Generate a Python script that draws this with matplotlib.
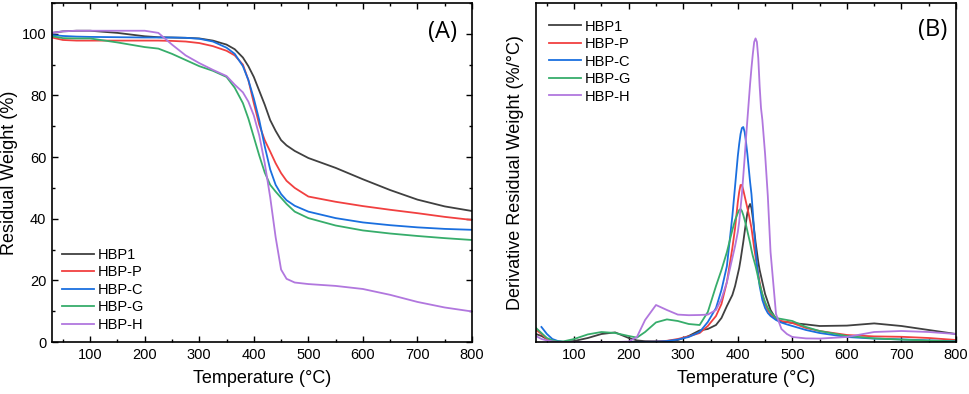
import numpy as np
import matplotlib
matplotlib.use("Agg")
import matplotlib.pyplot as plt
from matplotlib.ticker import MultipleLocator

plt.rcParams['font.family'] = ['Liberation Sans', 'DejaVu Sans']

names = ['HBP1', 'HBP-P', 'HBP-C', 'HBP-G', 'HBP-H']
colors = ['#404040', '#F14040', '#1A6FDF', '#37AD6B', '#B177DE']

# TGA (A): residual weight, %
t_tga = [30, 50, 75, 100, 150, 200, 225, 250, 275, 300, 325, 350, 365, 380, 390,
         400, 410, 420, 430, 440, 450, 460, 475, 500, 550, 600, 650, 700, 750, 800]
w_hbp1 = [100.3, 100.8, 101, 101, 100.3, 99.2, 98.9, 98.8, 98.7, 98.5, 97.8, 96.5, 95, 92.3, 89.5,
          86, 81.5, 77, 72, 68.5, 65.5, 63.8, 62, 59.7, 56.5, 52.8, 49.3, 46.2, 44, 42.5]
w_hbpp = [98.8, 98, 97.8, 97.8, 97.8, 97.8, 97.8, 97.7, 97.5, 97, 96, 94.5, 93, 90, 85,
          77.5, 70.5, 65.5, 61.8, 58, 54.8, 52.3, 50, 47.2, 45.5, 44.1, 42.9, 41.8, 40.6, 39.6]
w_hbpc = [99.6, 99.3, 99.1, 99, 98.9, 98.8, 98.8, 98.8, 98.7, 98.4, 97.5, 95.5, 93.5, 89.5, 85,
          79, 72, 63.5, 56, 51, 48, 46, 44.2, 42.3, 40.2, 38.8, 37.9, 37.2, 36.7, 36.4]
w_hbpg = [99.2, 98.6, 98.5, 98.5, 97.2, 95.7, 95.2, 93.5, 91.5, 89.5, 88, 86, 82.5, 77.5, 72.5,
          66.5, 60.5, 55, 51, 48.8, 46.8, 44.8, 42.3, 40.2, 37.8, 36.2, 35.2, 34.4, 33.7, 33.1]
w_hbph = [100.3, 100.8, 101, 101, 101, 101, 100.3, 96.5, 93, 90.5, 88.3, 86.3, 83.5, 81, 78,
          73.5, 67, 58, 47, 34, 23.5, 20.5, 19.3, 18.8, 18.2, 17.2, 15.3, 13, 11.2, 9.9]

# DTG (B): derivative residual weight, arbitrary scale
t_dtg = [30, 40, 50, 60, 70, 80, 100, 125, 150, 175, 200, 215, 230, 250, 270, 290, 310, 330,
         345, 360, 370, 380, 390, 395, 400, 402.5, 405, 407.5, 410, 412.5, 415, 417.5, 420,
         422.5, 425, 427.5, 430, 432.5, 435, 437.5, 440, 442.5, 445, 450,
         455, 460, 470, 480, 490, 500, 525, 550, 600, 650, 700, 750, 800]
d_hbp1 = [0.04, 0.03, 0.015, 0.005, 0.002, 0.0, 0.005, 0.02, 0.04, 0.048, 0.02, 0.008, 0.004, 0.003, 0.003, 0.01, 0.03, 0.058,
          0.065, 0.085, 0.12, 0.18, 0.235, 0.28, 0.34, 0.37, 0.41, 0.455, 0.5, 0.55, 0.6, 0.645, 0.675,
          0.69, 0.67, 0.62, 0.56, 0.5, 0.45, 0.4, 0.36, 0.33, 0.3, 0.24,
          0.2, 0.16, 0.115, 0.1, 0.1, 0.095, 0.088, 0.08, 0.082, 0.093, 0.08, 0.06, 0.04]
d_hbpp = [0.06, 0.04, 0.015, 0.005, 0.002, 0.0, 0.0, 0.0, 0.0, 0.0, 0.0, 0.0, 0.001, 0.002, 0.006, 0.015, 0.028, 0.045,
          0.08, 0.13, 0.19, 0.3, 0.47, 0.57, 0.7, 0.75, 0.785, 0.785, 0.76, 0.73, 0.7, 0.67, 0.64,
          0.605, 0.57, 0.52, 0.47, 0.425, 0.38, 0.34, 0.3, 0.265, 0.235, 0.19,
          0.16, 0.14, 0.115, 0.105, 0.1, 0.095, 0.07, 0.055, 0.035, 0.028, 0.026, 0.02, 0.01]
d_hbpc = [np.nan, 0.075, 0.04, 0.015, 0.005, 0.001, 0.0, 0.0, 0.0, 0.0, 0.0, 0.0, 0.001, 0.002, 0.005, 0.012, 0.025, 0.05,
          0.1, 0.17, 0.26, 0.38, 0.63, 0.78, 0.93, 0.99, 1.04, 1.07, 1.075, 1.05, 1.0, 0.94, 0.87,
          0.8, 0.74, 0.65, 0.55, 0.47, 0.39, 0.33, 0.28, 0.245, 0.21, 0.17,
          0.145, 0.13, 0.11, 0.097, 0.088, 0.08, 0.06, 0.045, 0.025, 0.017, 0.013, 0.008, 0.004]
d_hbpg = [0.07, 0.045, 0.02, 0.008, 0.003, 0.003, 0.015, 0.038, 0.05, 0.045, 0.03, 0.022, 0.05, 0.098, 0.113, 0.105, 0.09, 0.085,
          0.15, 0.28, 0.36, 0.45, 0.56, 0.61, 0.645, 0.66, 0.665, 0.655, 0.635, 0.61, 0.585, 0.555, 0.525,
          0.495, 0.46, 0.43, 0.405, 0.38, 0.35, 0.32, 0.29, 0.265, 0.24, 0.2,
          0.17, 0.15, 0.12, 0.115, 0.11, 0.105, 0.075, 0.055, 0.03, 0.018, 0.012, 0.007, 0.003]
d_hbph = [0.03, 0.015, 0.008, 0.003, 0.0, 0.0, 0.0, 0.0, 0.0, 0.0, 0.002, 0.025, 0.11, 0.185, 0.16, 0.137, 0.134, 0.135,
          0.137, 0.16, 0.215, 0.3, 0.42, 0.48, 0.55, 0.6, 0.67, 0.74, 0.83, 0.92, 1.02, 1.11, 1.2,
          1.29, 1.37, 1.44, 1.5, 1.518, 1.5, 1.42, 1.28, 1.17, 1.11, 0.94,
          0.73, 0.45, 0.14, 0.065, 0.04, 0.025, 0.018, 0.017, 0.025, 0.05, 0.055, 0.05, 0.04]

tga = [w_hbp1, w_hbpp, w_hbpc, w_hbpg, w_hbph]
dtg = [d_hbp1, d_hbpp, d_hbpc, d_hbpg, d_hbph]

fig = plt.figure(figsize=(9.7, 3.94), dpi=100)
axA = fig.add_axes([52/970, 52/394, 420/970, 339/394])
axB = fig.add_axes([536/970, 52/394, 420/970, 339/394])

for ys, c, n in zip(tga, colors, names):
    axA.plot(t_tga, ys, color=c, lw=1.3, label=n)
for ys, c, n in zip(dtg, colors, names):
    axB.plot(t_dtg, ys, color=c, lw=1.3, label=n)

for ax in (axA, axB):
    ax.set_xlim(30, 800)
    ax.xaxis.set_major_locator(MultipleLocator(100))
    ax.xaxis.set_minor_locator(MultipleLocator(50))
    ax.set_xlabel('Temperature (°C)', fontsize=13, labelpad=6)
    for s in ax.spines.values():
        s.set_linewidth(1.2)
    ax.tick_params(which='both', direction='in', top=True, labelsize=10.5, width=1.0)
    ax.tick_params(which='major', length=4.5, pad=4)
    ax.tick_params(which='minor', length=2.5)

axA.set_ylim(0, 110)
axA.yaxis.set_major_locator(MultipleLocator(20))
axA.yaxis.set_minor_locator(MultipleLocator(10))
axA.tick_params(which='both', right=True)
axA.set_ylabel('Residual Weight (%)', fontsize=13)
axA.yaxis.set_label_coords(-0.082, 0.5)
axA.text(0.964, 0.914, '(A)', transform=axA.transAxes, ha='right', va='center',
         fontsize=17, family='Open Sans')
axA.legend(loc='upper left', bbox_to_anchor=(0.0, 0.308), frameon=False, fontsize=10.5,
           handlelength=2.2, handletextpad=0.25, labelspacing=0.24, borderaxespad=0.3)

axB.set_ylim(0, 1.695)
axB.tick_params(axis='y', which='both', left=False, right=False, labelleft=False)
axB.set_ylabel('Derivative Residual Weight (%/°C)', fontsize=13)
axB.yaxis.set_label_coords(-0.029, 0.5)
axB.text(0.979, 0.92, '(B)', transform=axB.transAxes, ha='right', va='center',
         fontsize=17, family='Open Sans')
axB.legend(loc='upper left', bbox_to_anchor=(0.0, 0.99), frameon=False, fontsize=10.5,
           handlelength=2.2, handletextpad=0.25, labelspacing=0.24, borderaxespad=0.5)

fig.savefig('out.png', dpi=100)
